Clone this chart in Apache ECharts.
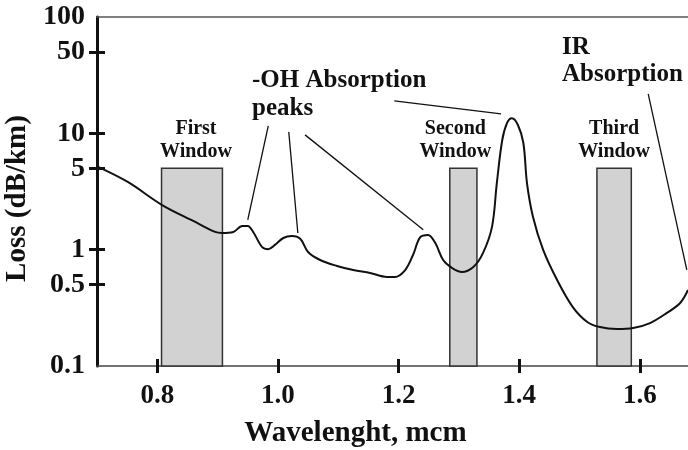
<!DOCTYPE html>
<html>
<head>
<meta charset="utf-8">
<script src="https://cdn.jsdelivr.net/npm/echarts@6/dist/echarts.min.js"></script>
<style>
  html, body { margin: 0; padding: 0; background: #fff; }
  #chart { width: 688px; height: 450px; }
</style>
</head>
<body>
<div id="chart"></div>
<script>
// wavelength (mcm) and attenuation (dB/km)
var wavelength = [0.700, 0.751, 0.808, 0.863, 0.896, 0.907, 0.926, 0.941, 0.950, 0.959,
  0.974, 0.984, 0.995, 1.009, 1.023, 1.037, 1.050, 1.070, 1.098, 1.125,
  1.153, 1.181, 1.194, 1.211, 1.224, 1.236, 1.249, 1.261, 1.274, 1.289,
  1.305, 1.324, 1.340, 1.355, 1.363, 1.372, 1.380, 1.388, 1.398, 1.407,
  1.413, 1.423, 1.440, 1.463, 1.489, 1.513, 1.534, 1.562, 1.589, 1.617,
  1.645, 1.667, 1.680];
var loss = [5.2, 3.82, 2.42, 1.73, 1.42, 1.39, 1.42, 1.60, 1.60, 1.42,
  1.05, 1.01, 1.10, 1.26, 1.31, 1.24, 0.955, 0.815, 0.724, 0.668,
  0.630, 0.582, 0.582, 0.668, 0.90, 1.28, 1.34, 1.14, 0.815, 0.695,
  0.643, 0.71, 0.935, 1.57, 3.74, 8.77, 12.3, 13.5, 11.8, 8.26,
  3.74, 1.91, 0.99, 0.548, 0.321, 0.239, 0.216, 0.208, 0.212, 0.234,
  0.286, 0.348, 0.45];

// transmission windows
var windowNames = ['First\nWindow', 'Second\nWindow', 'Third\nWindow'];
var windowStart = [0.807, 1.285, 1.529];
var windowEnd = [0.908, 1.330, 1.586];
var windowTop = 5;
var windowBottom = 0.1;

// tick labels
var xTicks = [0.8, 1.0, 1.2, 1.4, 1.6];
var yLabels = [0.1, 0.5, 1, 5, 10, 50, 100];
var yTicks = [0.5, 1, 5, 10, 50];

// pointer lines: [wavelength, loss] -> [wavelength, loss]
var pointerFrom = [[0.984, 11.6], [1.018, 10.3], [1.045, 9.7], [1.193, 19.0], [1.614, 21.8]];
var pointerTo = [[0.950, 1.80], [1.033, 1.39], [1.241, 1.48], [1.370, 14.7], [1.678, 0.67]];

var lg = function (v) { return Math.log10(v); };
var serif = '"Liberation Serif", "DejaVu Serif", serif';

var chart = echarts.init(document.getElementById('chart'));

var lineData = [];
for (var i = 0; i < wavelength.length; i++) {
  lineData.push([wavelength[i], lg(loss[i])]);
}
var winData = [];
for (var j = 0; j < windowStart.length; j++) {
  winData.push([windowStart[j], windowEnd[j], lg(windowTop), lg(windowBottom)]);
}
var pointers = [];
for (var k = 0; k < pointerFrom.length; k++) {
  pointers.push([
    { coord: [pointerFrom[k][0], lg(pointerFrom[k][1])] },
    { coord: [pointerTo[k][0], lg(pointerTo[k][1])] }
  ]);
}
var labelShift = [4, -8, 0];

var option = {
  animation: false,
  grid: { left: 97, right: 0, top: 17, bottom: 84, outerBoundsMode: 'none' },
  xAxis: [
    {
      type: 'value', min: 0.7, max: 1.68, position: 'bottom',
      axisLine: { show: true, onZero: false, lineStyle: { color: '#444', width: 1.5 } },
      axisTick: { show: true, customValues: xTicks, length: 7, lineStyle: { color: '#111', width: 3 } },
      axisLabel: {
        customValues: xTicks, margin: 17, color: '#111',
        fontFamily: serif, fontWeight: 'bold', fontSize: 27,
        formatter: function (v) { return v.toFixed(1); }
      },
      splitLine: { show: false },
      name: 'Wavelenght, mcm', nameLocation: 'middle', nameGap: 53,
      nameTextStyle: { color: '#111', fontFamily: serif, fontWeight: 'bold', fontSize: 29, padding: [0, 74, 0, 0] }
    },
    {
      type: 'value', min: 0.7, max: 1.68, position: 'bottom',
      axisLine: { show: false, onZero: false },
      axisTick: { show: true, inside: true, customValues: xTicks, length: 7, lineStyle: { color: '#111', width: 3 } },
      axisLabel: { show: false },
      splitLine: { show: false }
    },
    {
      type: 'value', min: 0.7, max: 1.68, position: 'top',
      axisLine: { show: true, onZero: false, lineStyle: { color: '#555', width: 1.5 } },
      axisTick: { show: false },
      axisLabel: { show: false },
      splitLine: { show: false }
    }
  ],
  yAxis: [
    {
      type: 'value', min: -1, max: 2, position: 'left',
      axisLine: { show: true, onZero: false, lineStyle: { color: '#111', width: 3 } },
      axisTick: { show: true, customValues: yTicks.map(lg), length: 8, lineStyle: { color: '#111', width: 3 } },
      axisLabel: {
        customValues: yLabels.map(lg), margin: 12, color: '#111',
        fontFamily: serif, fontWeight: 'bold', fontSize: 28,
        formatter: function (v) { return String(parseFloat(Math.pow(10, v).toPrecision(2))); }
      },
      splitLine: { show: false },
      name: 'Loss (dB/km)', nameLocation: 'middle', nameGap: 56,
      nameTextStyle: { color: '#111', fontFamily: serif, fontWeight: 'bold', fontSize: 29, padding: [0, 14, 0, 0] }
    },
    {
      type: 'value', min: -1, max: 2, position: 'left',
      axisLine: { show: false, onZero: false },
      axisTick: { show: true, inside: true, customValues: yTicks.map(lg), length: 8, lineStyle: { color: '#111', width: 3 } },
      axisLabel: { show: false },
      splitLine: { show: false }
    }
  ],
  graphic: [
    {
      type: 'text', left: 252, top: 67, z: 10,
      style: { text: '-OH Absorption\npeaks', font: 'bold 25px ' + serif, fill: '#111', lineHeight: 28 }
    },
    {
      type: 'text', left: 562, top: 34, z: 10,
      style: { text: 'IR\nAbsorption', font: 'bold 25px ' + serif, fill: '#111', lineHeight: 27 }
    }
  ],
  series: [
    {
      type: 'custom', z: 1, silent: true,
      data: winData,
      renderItem: function (params, api) {
        var p0 = api.coord([api.value(0), api.value(2)]);
        var p1 = api.coord([api.value(1), api.value(3)]);
        return {
          type: 'group',
          children: [
            {
              type: 'rect',
              shape: { x: p0[0], y: p0[1], width: p1[0] - p0[0], height: p1[1] - p0[1] },
              style: { fill: '#d2d2d2', stroke: '#333', lineWidth: 1.5 }
            },
            {
              type: 'text',
              x: (p0[0] + p1[0]) / 2 + labelShift[params.dataIndex], y: p0[1] - 5,
              style: {
                text: windowNames[params.dataIndex], font: 'bold 20px ' + serif, fill: '#111',
                textAlign: 'center', textVerticalAlign: 'bottom', lineHeight: 23
              }
            }
          ]
        };
      }
    },
    {
      type: 'line', z: 3, silent: true,
      data: lineData,
      showSymbol: false,
      smooth: 0.35,
      lineStyle: { color: '#111', width: 2 },
      markLine: {
        silent: true,
        symbol: ['none', 'none'],
        label: { show: false },
        lineStyle: { color: '#111', width: 1.3, type: 'solid' },
        data: pointers
      }
    }
  ]
};

chart.setOption(option);
</script>
</body>
</html>
